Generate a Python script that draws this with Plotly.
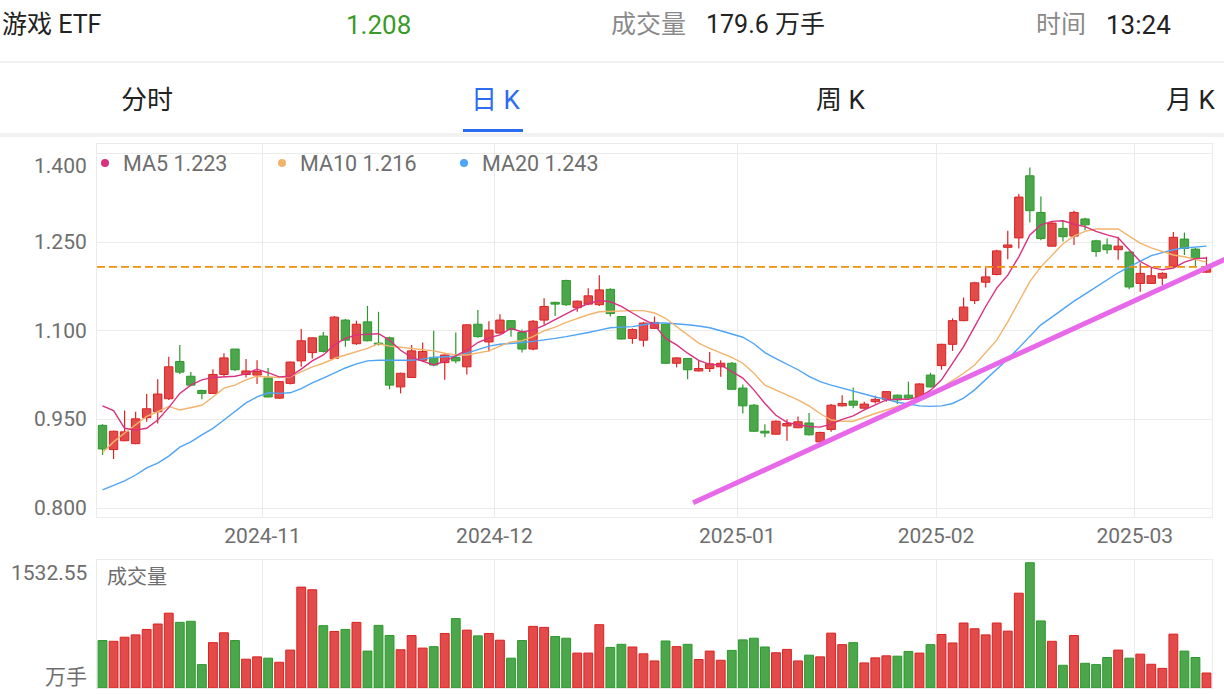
import plotly.graph_objects as go

W, H = 1224, 694

# ---------------- data ----------------
oct_days = [11, 14, 15, 16, 17, 18, 21, 22, 23, 24, 25, 28, 29, 30, 31]
nov_days = [1, 4, 5, 6, 7, 8, 11, 12, 13, 14, 15, 18, 19, 20, 21, 22, 25, 26, 27, 28, 29]
dec_days = [2, 3, 4, 5, 6, 9, 10, 11, 12, 13, 16, 17, 18, 19, 20, 23, 24, 25, 26, 27, 30, 31]
jan_days = [2, 3, 6, 7, 8, 9, 10, 13, 14, 15, 16, 17, 20, 21, 22, 23, 24, 27]
feb_days = [5, 6, 7, 10, 11, 12, 13, 14, 17, 18, 19, 20, 21, 24, 25, 26, 27, 28]
mar_days = [3, 4, 5, 6, 7, 10, 11]
dates = ([f"2024-10-{d:02d}" for d in oct_days] + [f"2024-11-{d:02d}" for d in nov_days]
         + [f"2024-12-{d:02d}" for d in dec_days] + [f"2025-01-{d:02d}" for d in jan_days]
         + [f"2025-02-{d:02d}" for d in feb_days] + [f"2025-03-{d:02d}" for d in mar_days])

opens = [0.940, 0.899, 0.914, 0.909, 0.953, 0.963, 0.985, 1.048, 1.023, 0.999,
         0.994, 1.026, 1.069, 1.026, 1.025, 1.020, 0.986, 1.011, 1.049, 1.063,
         1.091, 1.053, 1.118, 1.078, 1.115, 1.079, 1.088, 1.005, 1.021, 1.050,
         1.055, 1.046, 1.055, 1.039, 1.111, 1.081, 1.096, 1.117, 1.097, 1.069,
         1.118, 1.148, 1.185, 1.139, 1.145, 1.144, 1.170, 1.124, 1.087, 1.084,
         1.104, 1.111, 1.045, 1.053, 1.032, 1.036, 1.039, 1.045, 1.003, 0.974,
         0.930, 0.925, 0.939, 0.936, 0.944, 0.912, 0.933, 0.973, 0.981, 0.969,
         0.980, 0.984, 0.991, 0.991, 0.987, 1.025, 1.041, 1.077, 1.117, 1.151,
         1.182, 1.195, 1.241, 1.257, 1.362, 1.300, 1.243, 1.273, 1.260, 1.289,
         1.252, 1.245, 1.237, 1.233, 1.180, 1.180, 1.189, 1.209, 1.255, 1.238,
         1.199]
highs = [0.942, 0.931, 0.965, 0.963, 0.993, 1.018, 1.056, 1.076, 1.030, 1.000,
         1.035, 1.062, 1.069, 1.052, 1.050, 1.037, 1.015, 1.048, 1.103, 1.089,
         1.098, 1.125, 1.120, 1.117, 1.142, 1.132, 1.090, 1.029, 1.076, 1.080,
         1.100, 1.060, 1.097, 1.111, 1.135, 1.116, 1.128, 1.118, 1.102, 1.118,
         1.155, 1.149, 1.186, 1.151, 1.172, 1.194, 1.172, 1.125, 1.104, 1.115,
         1.124, 1.112, 1.055, 1.054, 1.049, 1.064, 1.050, 1.047, 1.009, 0.976,
         0.942, 0.948, 0.950, 0.955, 0.961, 0.929, 0.976, 0.991, 1.004, 0.980,
         0.990, 0.998, 0.992, 1.014, 1.011, 1.029, 1.078, 1.121, 1.156, 1.183,
         1.206, 1.237, 1.269, 1.331, 1.376, 1.327, 1.284, 1.287, 1.303, 1.291,
         1.254, 1.256, 1.259, 1.234, 1.214, 1.206, 1.199, 1.267, 1.266, 1.240,
         1.225]
lows = [0.890, 0.883, 0.913, 0.908, 0.946, 0.943, 0.983, 1.027, 1.006, 0.984,
        0.994, 1.023, 1.032, 1.021, 1.010, 0.987, 0.985, 1.009, 1.039, 1.053,
        1.063, 1.052, 1.073, 1.076, 1.082, 1.075, 1.001, 0.994, 1.020, 1.048,
        1.040, 1.017, 1.045, 1.026, 1.088, 1.065, 1.095, 1.090, 1.063, 1.067,
        1.110, 1.125, 1.142, 1.132, 1.143, 1.142, 1.124, 1.085, 1.078, 1.073,
        1.103, 1.044, 1.038, 1.018, 1.031, 1.030, 1.022, 1.000, 0.960, 0.929,
        0.920, 0.924, 0.914, 0.935, 0.923, 0.910, 0.929, 0.972, 0.969, 0.968,
        0.977, 0.980, 0.976, 0.985, 0.985, 1.004, 1.034, 1.066, 1.116, 1.145,
        1.173, 1.194, 1.221, 1.239, 1.283, 1.253, 1.242, 1.251, 1.245, 1.270,
        1.225, 1.230, 1.220, 1.170, 1.166, 1.179, 1.177, 1.208, 1.228, 1.209,
        1.198]
closes = [0.900, 0.930, 0.929, 0.951, 0.968, 0.993, 1.039, 1.030, 1.008, 0.994,
          1.026, 1.054, 1.034, 1.032, 1.031, 0.988, 1.014, 1.047, 1.083, 1.088,
          1.065, 1.123, 1.084, 1.111, 1.083, 1.077, 1.008, 1.028, 1.066, 1.065,
          1.042, 1.059, 1.049, 1.110, 1.090, 1.101, 1.118, 1.102, 1.069, 1.116,
          1.141, 1.145, 1.144, 1.150, 1.159, 1.169, 1.129, 1.086, 1.102, 1.113,
          1.114, 1.045, 1.054, 1.034, 1.036, 1.044, 1.045, 1.001, 0.973, 0.930,
          0.927, 0.947, 0.943, 0.946, 0.924, 0.928, 0.974, 0.977, 0.974, 0.976,
          0.984, 0.997, 0.983, 0.986, 1.010, 1.005, 1.077, 1.117, 1.140, 1.181,
          1.191, 1.235, 1.245, 1.326, 1.303, 1.256, 1.282, 1.259, 1.300, 1.279,
          1.234, 1.237, 1.243, 1.174, 1.197, 1.193, 1.197, 1.258, 1.239, 1.222,
          1.208]
ma5 = [0.973, 0.965, 0.935, 0.932, 0.935, 0.949, 0.970, 0.994, 1.008, 1.017,
       1.021, 1.022, 1.023, 1.027, 1.035, 1.029, 1.022, 1.023, 1.035, 1.049,
       1.059, 1.076, 1.087, 1.093, 1.094, 1.095, 1.084, 1.067, 1.055, 1.049,
       1.042, 1.048, 1.057, 1.067, 1.080, 1.088, 1.093, 1.104, 1.098, 1.101,
       1.109, 1.119, 1.128, 1.138, 1.146, 1.151, 1.149, 1.141, 1.130, 1.119,
       1.110, 1.087, 1.076, 1.062, 1.050, 1.043, 1.042, 1.031, 1.020, 1.000,
       0.977, 0.957, 0.945, 0.941, 0.938, 0.937, 0.942, 0.950, 0.956, 0.966,
       0.974, 0.983, 0.984, 0.984, 0.988, 0.999, 1.017, 1.044, 1.073, 1.107,
       1.141, 1.172, 1.194, 1.225, 1.262, 1.279, 1.285, 1.286, 1.280, 1.276,
       1.268, 1.262, 1.257, 1.237, 1.217, 1.207, 1.203, 1.206, 1.216, 1.222,
       1.223]
ma10 = [0.894, 0.912, 0.927, 0.941, 0.955, 0.963, 0.972, 0.966, 0.970, 0.974,
        0.988, 1.003, 1.008, 1.017, 1.023, 1.022, 1.021, 1.022, 1.031, 1.039,
        1.045, 1.053, 1.059, 1.065, 1.070, 1.078, 1.074, 1.072, 1.070, 1.069,
        1.066, 1.062, 1.059, 1.059, 1.062, 1.066, 1.074, 1.081, 1.083, 1.090,
        1.100, 1.106, 1.114, 1.121, 1.127, 1.132, 1.133, 1.133, 1.134, 1.134,
        1.130, 1.121, 1.107, 1.093, 1.079, 1.070, 1.062, 1.055, 1.045, 1.028,
        1.008, 1.000, 0.991, 0.983, 0.973, 0.960, 0.949, 0.947, 0.947, 0.954,
        0.960, 0.966, 0.972, 0.977, 0.984, 0.991, 1.003, 1.015, 1.028, 1.042,
        1.063, 1.084, 1.115, 1.149, 1.183, 1.208, 1.228, 1.247, 1.260, 1.268,
        1.272, 1.272, 1.272, 1.260, 1.248, 1.240, 1.234, 1.228, 1.225, 1.221,
        1.216]
ma20 = [0.831, 0.838, 0.846, 0.856, 0.868, 0.876, 0.888, 0.903, 0.912, 0.924,
        0.935, 0.949, 0.963, 0.978, 0.988, 0.995, 0.994, 0.995, 1.002, 1.012,
        1.020, 1.029, 1.037, 1.044, 1.049, 1.050, 1.050, 1.049, 1.050, 1.052,
        1.055, 1.056, 1.057, 1.062, 1.068, 1.074, 1.077, 1.078, 1.080, 1.082,
        1.084, 1.087, 1.090, 1.093, 1.097, 1.101, 1.105, 1.106, 1.107, 1.110,
        1.113, 1.113, 1.112, 1.110, 1.108, 1.105, 1.100, 1.095, 1.089, 1.078,
        1.063, 1.053, 1.044, 1.034, 1.023, 1.014, 1.008, 1.003, 0.998, 0.992,
        0.988, 0.984, 0.979, 0.976, 0.973, 0.972, 0.973, 0.977, 0.986, 1.000,
        1.017, 1.034, 1.052, 1.071, 1.091, 1.110, 1.123, 1.137, 1.150, 1.162,
        1.174, 1.186, 1.198, 1.208, 1.218, 1.227, 1.232, 1.237, 1.240, 1.242,
        1.243]
volumes = [568, 559, 608, 636, 701, 766, 896, 786, 799, 280,
           543, 661, 568, 345, 373, 357, 308, 454, 1208, 1176,
           746, 677, 701, 786, 442, 750, 628, 458, 628, 478,
           495, 653, 831, 693, 624, 653, 572, 357, 568, 738,
           726, 616, 596, 418, 418, 758, 486, 523, 491, 409,
           324, 563, 495, 523, 341, 442, 332, 450, 576, 596,
           491, 422, 462, 324, 393, 373, 657, 519, 543, 300,
           361, 385, 381, 438, 418, 519, 641, 539, 778, 709,
           636, 778, 681, 1135, 1500, 803, 559, 272, 628, 296,
           280, 365, 454, 357, 405, 284, 235, 645, 442, 365,
           179.6]

last_price = 1.208
today_volume = "179.6"
quote_time = "13:24"
price_ticks = [0.800, 0.950, 1.100, 1.250, 1.400]
vol_axis_max = 1532.55
trend_idx = [53.5, 101.7]
trend_price = [0.809, 1.221]

# ---------------- styling ----------------
RED_FILL, RED_LINE = "#e34a4a", "#dc2222"
GREEN_FILL, GREEN_LINE = "#4ca64c", "#2b9a2b"
MA5_C, MA10_C, MA20_C = "#d9307f", "#f2b46c", "#4ea4f6"
TREND_C, DASH_C = "#e868ea", "#f0900c"
GRID = "#ebebeb"
LBL = "#6e6e6e"
FONT = "Roboto, 'Noto Sans CJK SC', sans-serif"

n = len(closes)
xs = list(range(n))
up = [c >= o for o, c in zip(opens, closes)]

X_DOM = [97 / W, 1212 / W]
Y_DOM = [1 - 517 / H, 1 - 143.5 / H]
V_DOM = [1 - 688 / H, 1 - 560 / H]
X_RANGE = [-0.5, n - 0.5]
Y_RANGE = [0.785, 1.4166]

# month boundaries for grid / ticks
month_ticks, month_labels = [], []
for i in range(1, n):
    if dates[i][:7] != dates[i - 1][:7]:
        month_ticks.append(i - 0.5)
        month_labels.append(dates[i][:7])

fig = go.Figure()

for flag, fill, edge in [(True, RED_FILL, RED_LINE), (False, GREEN_FILL, GREEN_LINE)]:
    idx = [i for i in xs if up[i] == flag]
    wx, wy = [], []
    for i in idx:
        top, bot = max(opens[i], closes[i]), min(opens[i], closes[i])
        wx += [i, i, None, i, i, None]
        wy += [highs[i], top, None, bot, lows[i], None]
    fig.add_trace(go.Scatter(x=wx, y=wy, mode="lines", line=dict(color=edge, width=1.2),
                             hoverinfo="skip", xaxis="x", yaxis="y"))
    fig.add_trace(go.Bar(x=idx,
                         y=[max(abs(closes[i] - opens[i]), 0.0016) for i in idx],
                         base=[min(opens[i], closes[i]) for i in idx],
                         width=0.76, marker=dict(color=fill, line=dict(color=edge, width=1)),
                         xaxis="x", yaxis="y"))

for vals, col in [(ma20, MA20_C), (ma10, MA10_C), (ma5, MA5_C)]:
    fig.add_trace(go.Scatter(x=xs, y=vals, mode="lines", line=dict(color=col, width=1.4),
                             xaxis="x", yaxis="y", hoverinfo="skip"))

fig.add_trace(go.Bar(x=xs, y=volumes, width=0.8,
                     marker=dict(color=[RED_FILL if u else GREEN_FILL for u in up],
                                 line=dict(color=[RED_LINE if u else GREEN_LINE for u in up], width=1)),
                     xaxis="x2", yaxis="y2"))

axis_common = dict(showgrid=True, gridcolor=GRID, gridwidth=1, showline=True, linecolor=GRID,
                   linewidth=1, mirror=True, zeroline=False, fixedrange=True, automargin=False)
fig.update_layout(
    width=W, height=H, margin=dict(l=0, r=0, t=0, b=0),
    paper_bgcolor="white", plot_bgcolor="white", showlegend=False, barmode="overlay",
    font=dict(family=FONT),
    xaxis=dict(domain=X_DOM, range=X_RANGE, anchor="y", tickmode="array", tickvals=month_ticks,
               ticktext=month_labels, ticks="", tickfont=dict(size=21, color=LBL), **axis_common),
    yaxis=dict(domain=Y_DOM, range=Y_RANGE, anchor="x", tickmode="array", tickvals=price_ticks,
               showticklabels=False, ticks="", **axis_common),
    xaxis2=dict(domain=X_DOM, range=X_RANGE, anchor="y2", tickmode="array", tickvals=month_ticks,
                showticklabels=False, ticks="", **axis_common),
    yaxis2=dict(domain=V_DOM, range=[0, vol_axis_max], anchor="x2", showticklabels=False,
                ticks="", **{**axis_common, "showgrid": False}),
)


def px(x):
    return x / W


def py(y):
    return 1 - y / H


ann = []


def text(x, y, s, size, color, anchor="left", yref="paper", yshift=0):
    ann.append(dict(x=x, y=y, xref="paper", yref=yref, text=s, showarrow=False, xanchor=anchor,
                    yanchor="middle", yshift=yshift, font=dict(size=size, color=color, family=FONT)))


# header
text(px(0), py(25), "游戏 ETF", 25, "#222222")
text(px(344), py(25), f"{last_price:.3f}", 26, "#3c9a28")
text(px(609), py(25), "成交量", 25, "#8a8a8a")
text(px(704), py(25), f"{today_volume} 万手", 25, "#222222")
text(px(1034), py(25), "时间", 25, "#8a8a8a")
text(px(1104), py(25), quote_time, 26, "#222222")
# tabs
text(px(119), py(100), "分时", 26, "#222222")
text(px(469), py(100), "日 K", 26, "#2b6cf0")
text(px(814), py(100), "周 K", 26, "#222222")
text(px(1164), py(100), "月 K", 26, "#222222")

# price axis labels
for v in price_ticks:
    text(px(89), v, f"{v:.3f}", 21, LBL, anchor="right", yref="y",
         yshift=-13 if v == max(price_ticks) else 0)
# volume axis labels
text(px(89), py(573), f"{vol_axis_max:.2f}", 21, LBL, anchor="right")
text(px(89), py(677), "万手", 21, LBL, anchor="right")
text(px(105), py(577), "成交量", 20, LBL)

# legend
legend_items = [("MA5", ma5[-1], MA5_C, 105), ("MA10", ma10[-1], MA10_C, 282), ("MA20", ma20[-1], MA20_C, 464)]
shapes = []
for name, val, col, x0 in legend_items:
    shapes.append(dict(type="circle", xref="paper", yref="paper", x0=px(x0 - 4), x1=px(x0 + 4),
                       y0=py(163 + 4), y1=py(163 - 4), fillcolor=col, line=dict(width=0)))
    text(px(x0 + 16), py(163), f"{name} {val:.3f}", 21.5, LBL)

# header separators and tab underline
shapes.append(dict(type="line", xref="paper", yref="paper", x0=0, x1=1, y0=py(62), y1=py(62),
                   line=dict(color="#e6e6e6", width=1)))
shapes.append(dict(type="rect", xref="paper", yref="paper", x0=0, x1=1, y0=py(137), y1=py(133),
                   fillcolor="#f2f2f2", line=dict(width=0)))
shapes.append(dict(type="rect", xref="paper", yref="paper", x0=px(463), x1=px(523), y0=py(132),
                   y1=py(129), fillcolor="#2b6cf0", line=dict(width=0)))

# last price dashed line
shapes.append(dict(type="line", xref="x domain", yref="y", x0=0, x1=1, y0=last_price, y1=last_price,
                   line=dict(color=DASH_C, width=1.6, dash="8px,4px"), layer="above"))


# trend line (converted from data coords to paper so it may run past the plot edge)
def to_paper_x(v):
    return X_DOM[0] + (v - X_RANGE[0]) / (X_RANGE[1] - X_RANGE[0]) * (X_DOM[1] - X_DOM[0])


def to_paper_y(v):
    return Y_DOM[0] + (v - Y_RANGE[0]) / (Y_RANGE[1] - Y_RANGE[0]) * (Y_DOM[1] - Y_DOM[0])


shapes.append(dict(type="line", xref="paper", yref="paper",
                   x0=to_paper_x(trend_idx[0]), x1=to_paper_x(trend_idx[1]),
                   y0=to_paper_y(trend_price[0]), y1=to_paper_y(trend_price[1]),
                   line=dict(color=TREND_C, width=5), layer="above"))

fig.update_layout(annotations=ann, shapes=shapes)
fig.write_html("out.html")
